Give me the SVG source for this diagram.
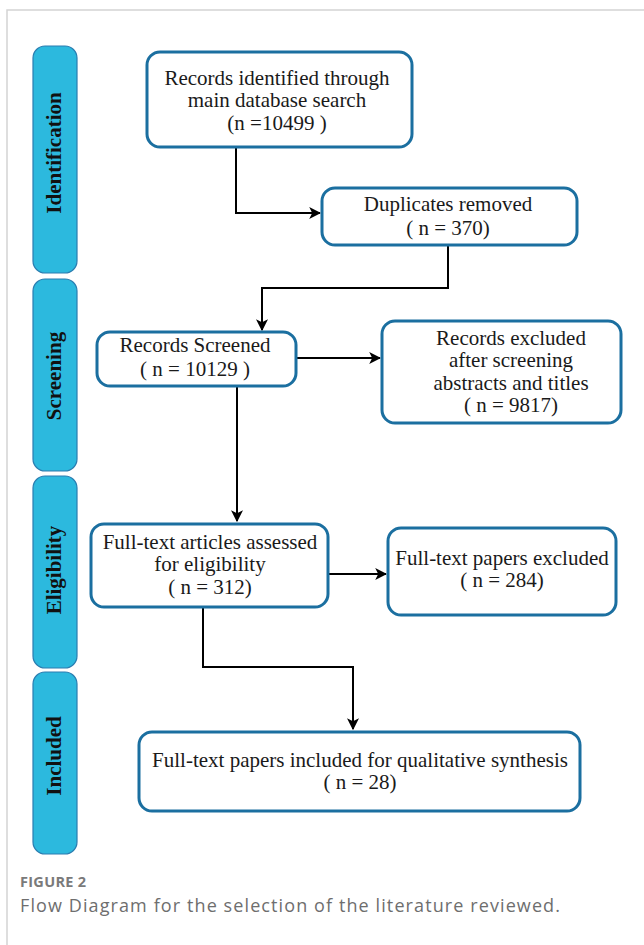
<svg xmlns="http://www.w3.org/2000/svg" width="644" height="945" viewBox="0 0 644 945">
<defs>
<marker id="arr" viewBox="0 0 10 10" refX="9" refY="5" markerWidth="12" markerHeight="12" markerUnits="userSpaceOnUse" orient="auto">
<path d="M0,0 L10,5 L0,10 L2.5,5 Z" fill="#000"/>
</marker>
</defs>
<style>
.frame{fill:none;stroke:#d4d4d4;stroke-width:1.5}
.phase rect{fill:#2cb9de;stroke:#2a7db0;stroke-width:1.2}
.phase text{font-family:"Liberation Serif",serif;font-weight:bold;font-size:21px;fill:#111;text-anchor:middle}
.box rect{fill:#fff;stroke:#1b6fa0;stroke-width:3}
.box text{font-family:"Liberation Serif",serif;font-size:21px;fill:#1a1a1a;text-anchor:middle}
.conn path{fill:none;stroke:#000;stroke-width:2}
.cap1{font-family:"Open Sans",sans-serif;font-weight:bold;font-size:14.5px;letter-spacing:0.3px;fill:#7a7a7a}
.cap2{font-family:"Open Sans",sans-serif;font-size:18px;letter-spacing:1.1px;fill:#6e6e6e}
</style>
<rect width="644" height="945" fill="#fff"/>
<path class="frame" d="M7,945 V10 H644"/>

<g id="phase-identification" class="phase">
<rect x="33" y="46" width="44" height="227" rx="12"/>
<text transform="translate(61,153) rotate(-90)">Identification</text>
</g>
<g id="phase-screening" class="phase">
<rect x="33" y="279" width="44" height="192" rx="12"/>
<text transform="translate(61,376) rotate(-90)">Screening</text>
</g>
<g id="phase-eligibility" class="phase">
<rect x="33" y="476" width="44" height="192" rx="12"/>
<text transform="translate(61,570) rotate(-90)">Eligibility</text>
</g>
<g id="phase-included" class="phase">
<rect x="33" y="672" width="44" height="182" rx="12"/>
<text transform="translate(61,756) rotate(-90)">Included</text>
</g>

<g id="connectors" class="conn">
<path d="M236,147 V213 H320" marker-end="url(#arr)"/>
<path d="M448,245 V288 H262 V330" marker-end="url(#arr)"/>
<path d="M296,358 H380" marker-end="url(#arr)"/>
<path d="M237,386 V521" marker-end="url(#arr)"/>
<path d="M328,574 H386" marker-end="url(#arr)"/>
<path d="M203,607 V667 H353 V729" marker-end="url(#arr)"/>
</g>

<g id="n1" class="box">
<rect x="147" y="52" width="265" height="95" rx="13"/>
<text x="277" y="85">Records identified through</text>
<text x="277" y="107">main database search</text>
<text x="277" y="130">(n =10499 )</text>
</g>
<g id="n2" class="box">
<rect x="322" y="188" width="255" height="57" rx="13"/>
<text x="448" y="211">Duplicates removed</text>
<text x="448" y="235">( n = 370)</text>
</g>
<g id="n3" class="box">
<rect x="97" y="332" width="199" height="54" rx="13"/>
<text x="195" y="352">Records Screened</text>
<text x="195" y="376">( n = 10129 )</text>
</g>
<g id="n4" class="box">
<rect x="382" y="321" width="239" height="102" rx="13"/>
<text x="511" y="345">Records excluded</text>
<text x="511" y="367">after screening</text>
<text x="511" y="390">abstracts and titles</text>
<text x="511" y="412">( n = 9817)</text>
</g>
<g id="n5" class="box">
<rect x="91" y="524" width="237" height="83" rx="13"/>
<text x="210" y="549">Full-text articles assessed</text>
<text x="210" y="571">for eligibility</text>
<text x="210" y="594">( n = 312)</text>
</g>
<g id="n6" class="box">
<rect x="388" y="528" width="228" height="87" rx="13"/>
<text x="502" y="565">Full-text papers excluded</text>
<text x="502" y="587">( n = 284)</text>
</g>
<g id="n7" class="box">
<rect x="139" y="732" width="441" height="79" rx="13"/>
<text x="360" y="767">Full-text papers included for qualitative synthesis</text>
<text x="360" y="789">( n = 28)</text>
</g>

<text class="cap1" x="20" y="887">FIGURE 2</text>
<text class="cap2" x="20" y="912">Flow Diagram for the selection of the literature reviewed.</text>
</svg>
